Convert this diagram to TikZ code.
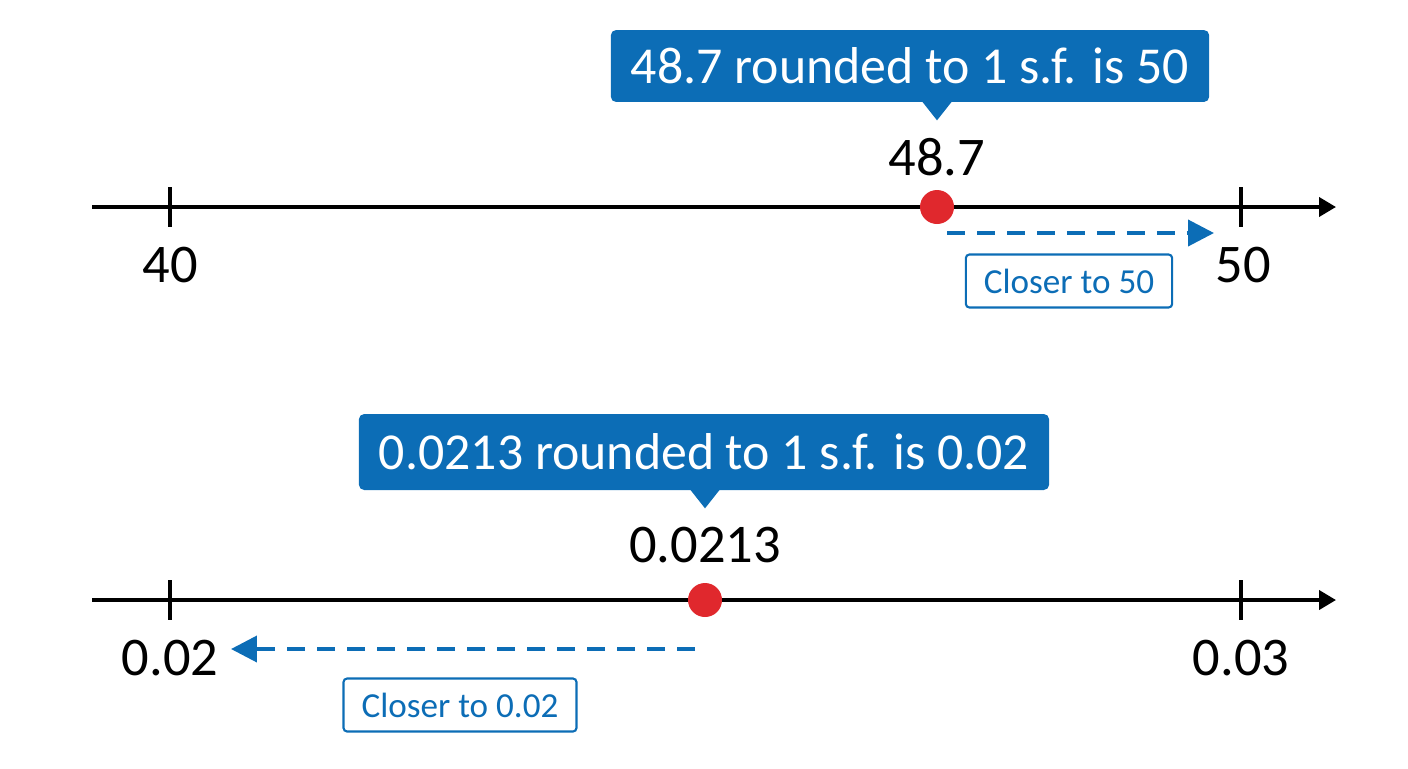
\documentclass[tikz,border=0pt]{standalone}
\usepackage{fontspec}
\setmainfont{Carlito}
\usepackage{tikz}
\usetikzlibrary{positioning,arrows.meta,calc}
\definecolor{calloutblue}{HTML}{0C6DB6}
\definecolor{dotred}{HTML}{E0282D}
\tikzset{
  axisline/.style={line width=2.2pt, draw=black, -{Triangle[length=3.4mm,width=3.8mm]}},
  tickmark/.style={line width=2.2pt, draw=black},
  numlbl/.style={font=\fontsize{31}{36}\selectfont, text=black, inner sep=0pt},
  dot/.style={circle, fill=dotred, minimum size=6.8mm, inner sep=0pt},
  callout/.style={rectangle, rounded corners=3pt, fill=calloutblue, text=white,
                  font=\fontsize{29.5}{34}\selectfont, inner xsep=4mm, minimum height=#1},
  closer/.style={-{Triangle[length=5.2mm,width=5.2mm]}, line width=2.2pt, draw=calloutblue,
                 dash pattern=on 3.6mm off 2.4mm},
  tag/.style={rectangle, rounded corners=2pt, draw=calloutblue, line width=1.2pt,
              text=calloutblue, font=\fontsize{20}{24}\selectfont, inner xsep=3.6mm,
              minimum height=10.6mm},
}

\begin{document}
\begin{tikzpicture}[x=0.02cm, y=-0.02cm]
  \useasboundingbox (0,0) rectangle (1408,768);

  % upper line: 48.7
  \coordinate (ua) at (92,207);
  \coordinate (ub) at (1336,207);
  \draw[axisline] (ua) -- (ub);
  \coordinate (u40) at (170,207);
  \coordinate (u50) at (1241,207);
  \draw[tickmark] ($(u40)+(0,-20)$) -- ($(u40)+(0,20)$);
  \draw[tickmark] ($(u50)+(0,-20)$) -- ($(u50)+(0,20)$);
  \node[numlbl] (l40) at (170,265) {40};
  \node[numlbl] (l50) at (1243,265) {50};
  \node[dot] (p1) at (937,207) {};
  \node[numlbl] (v1) at (937,157) {48.7};
  \node[callout=14.4mm] (c1) at (910,66) {48.7 rounded to 1 s.f. is 50};
  \fill[calloutblue] ($(c1.south -| p1)+(-15,-1)$) -- ($(c1.south -| p1)+(15,-1)$)
    -- ($(c1.south -| p1)+(0,18)$) -- cycle;
  \coordinate (s1) at (947,233);
  \coordinate (e1) at (1214,233);
  \draw[closer] (s1) -- (e1);
  \node[tag] (t1) at (1069,281) {Closer to 50};

  % lower line: 0.0213
  \coordinate (la) at (92,600);
  \coordinate (lb) at (1336,600);
  \draw[axisline] (la) -- (lb);
  \coordinate (d2) at (170,600);
  \coordinate (d3) at (1241,600);
  \draw[tickmark] ($(d2)+(0,-20)$) -- ($(d2)+(0,20)$);
  \draw[tickmark] ($(d3)+(0,-20)$) -- ($(d3)+(0,20)$);
  \node[numlbl] (l002) at (170,658) {0.02};
  \node[numlbl] (l003) at (1241,658) {0.03};
  \node[dot] (p2) at (705,600) {};
  \node[numlbl] (v2) at (705,545) {0.0213};
  \node[callout=15.2mm] (c2) at (704,452) {0.0213 rounded to 1 s.f. is 0.02};
  \fill[calloutblue] ($(c2.south -| p2)+(-15,-1)$) -- ($(c2.south -| p2)+(15,-1)$)
    -- ($(c2.south -| p2)+(0,18)$) -- cycle;
  \coordinate (s2) at (695,649);
  \coordinate (e2) at (231,649);
  \draw[closer] (s2) -- (e2);
  \node[tag] (t2) at (460,705) {Closer to 0.02};
\end{tikzpicture}
\end{document}
